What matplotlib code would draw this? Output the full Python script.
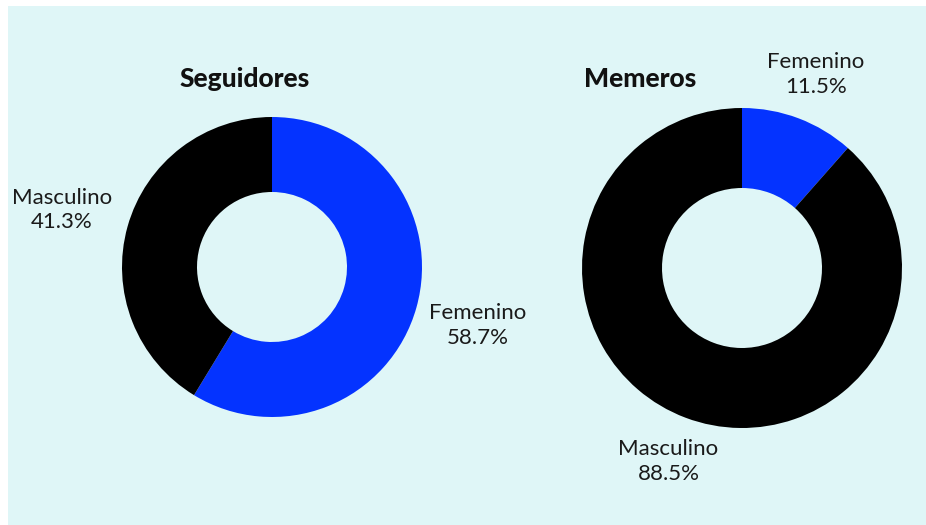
import matplotlib.pyplot as plt
from matplotlib.patches import Rectangle

W, H = 926, 525

categories = ['Femenino', 'Masculino']
seguidores = [58.7, 41.3]
memeros = [11.5, 88.5]
titles = ['Seguidores', 'Memeros']

blue = '#0433FF'
black = '#000000'
bg = '#DFF6F7'

fig = plt.figure(figsize=(W / 100, H / 100), dpi=100)
fig.patch.set_facecolor('white')
fig.patches.append(Rectangle((8 / W, 0), 1, 1 - 6 / H, transform=fig.transFigure,
                             facecolor=bg, edgecolor='none', zorder=-10))


def donut(cx, cy, r, values, label_pos, title, title_xy):
    ax = fig.add_axes([(cx - r) / W, (H - cy - r) / H, 2 * r / W, 2 * r / H])
    ax.pie(values, colors=[blue, black], startangle=90, counterclock=False,
           radius=1, wedgeprops=dict(width=0.5, edgecolor='none'))
    ax.set_xlim(-1, 1)
    ax.set_ylim(-1, 1)
    ax.set_aspect('equal')
    ax.axis('off')
    for name, val, (x, y) in zip(categories, values, label_pos):
        ax.text(x, y, f'{name}\n{val}%', ha='center', va='center', fontsize=16,
                family='Lato', color='#1a1a1a', linespacing=1.3, clip_on=False)
    fig.text(title_xy[0] / W, 1 - title_xy[1] / H, title, ha='center', va='center',
             fontsize=19, fontweight='black', family='Lato', color='#111111')


donut(272, 267, 150, seguidores, [(1.37, -0.39), (-1.4, 0.38)], titles[0], (245, 79))
donut(742, 268, 160, memeros, [(0.46, 1.21), (-0.46, -1.21)], titles[1], (640, 79))

fig.savefig('out.png', dpi=100, facecolor=fig.get_facecolor())
